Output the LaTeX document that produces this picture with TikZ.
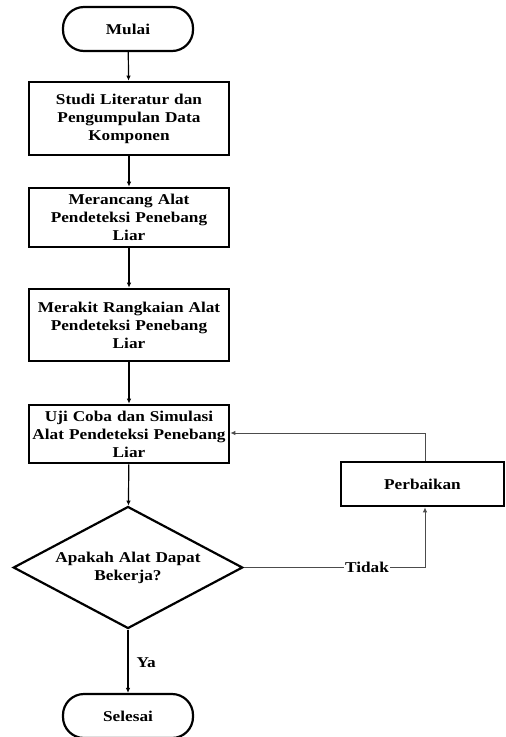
\documentclass[tikz,border=0pt]{standalone}
\usepackage{fontspec}
\setmainfont{Liberation Serif}[FakeStretch=1.15]
\usetikzlibrary{shapes.geometric,arrows.meta}
\begin{document}
\begin{tikzpicture}[x=1pt,y=-1pt,
  every node/.style={font=\bfseries\fontsize{15}{18}\selectfont},
  term/.style={draw,line width=2.2pt,rounded corners=21pt,minimum width=130pt,minimum height=44pt,inner sep=0pt},
  proc/.style={draw,line width=2.6pt,minimum width=200pt,text width=216pt,align=center,inner xsep=-8pt,inner ysep=0pt},
  dec/.style={draw,line width=2.2pt,diamond,aspect=1.88,minimum width=227pt,minimum height=121pt,inner sep=0pt,text width=170pt,align=center},
  flow/.style={line width=1.2pt,-{Latex[length=5pt,width=4.5pt]}},
  back/.style={line width=1pt,draw=black!70,-{Latex[length=5pt,width=4.5pt]}}]
\useasboundingbox (0,0) rectangle (506,737);
\node[term] (mulai) at (128,29) {Mulai};
\node[proc,minimum height=73pt] (s1) at (129,118.5) {Studi Literatur dan\\Pengumpulan Data\\Komponen};
\node[proc,minimum height=59pt] (s2) at (129,217.5) {Merancang Alat\\Pendeteksi Penebang\\Liar};
\node[proc,minimum height=72pt] (s3) at (129,325) {Merakit Rangkaian Alat\\Pendeteksi Penebang\\Liar};
\node[proc,minimum height=58pt] (s4) at (129,434) {Uji Coba dan Simulasi\\Alat Pendeteksi Penebang\\Liar};
\node[dec] (d) at (128,567.5) {Apakah Alat Dapat\\Bekerja?};
\node[proc,minimum width=163pt,text width=150pt,inner xsep=0pt,minimum height=44pt] (p) at (422.5,484) {Perbaikan};
\node[term] (selesai) at (128,716) {Selesai};
\node[anchor=west] (ya) at (133,663) {Ya};
\coordinate (c1) at (425,567.5);
\coordinate (c2) at (425,433);
\draw[flow] (mulai) -- (s1);
\draw[flow] (s1) -- (s2);
\draw[flow] (s2) -- (s3);
\draw[flow] (s3) -- (s4);
\draw[flow] (s4) -- (d);
\draw[flow] (d) -- (selesai);
\draw[line width=1pt,draw=black!70] (d.east) -- node[fill=white,inner sep=1pt,pos=0.68] (tidak) {Tidak} (c1);
\draw[back] (c1) -- (c1 |- p.south);
\draw[back] (c2 |- p.north) -- (c2) -- (s4.east |- c2);
\end{tikzpicture}
\end{document}
